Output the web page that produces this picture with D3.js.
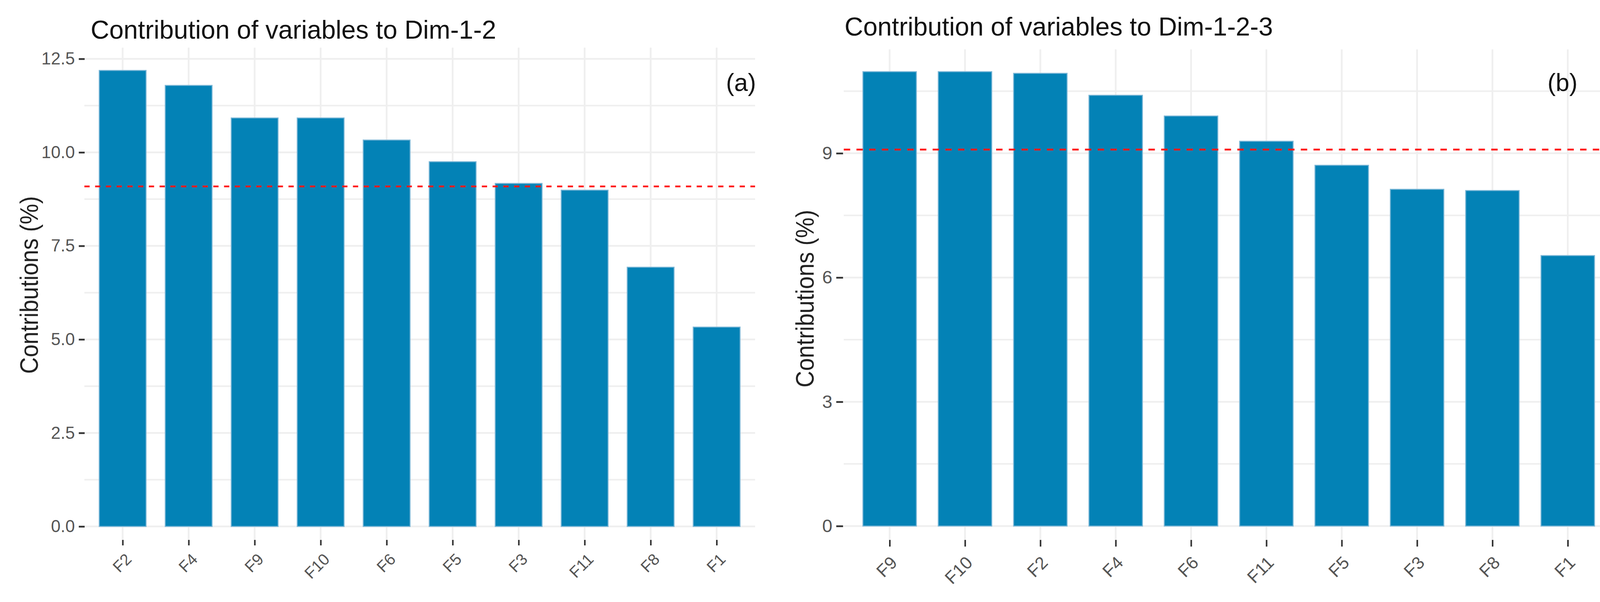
<!DOCTYPE html>
<html>
<head>
<meta charset="utf-8">
<script src="https://cdn.jsdelivr.net/npm/d3@7"></script>
<style>
  html, body { margin: 0; padding: 0; background: #fff; }
  text { font-family: "Liberation Sans", Arial, sans-serif; }
</style>
</head>
<body>
<script>
// data, panel (a): Dim-1-2
var catsA = ["F2", "F4", "F9", "F10", "F6", "F5", "F3", "F11", "F8", "F1"];
var valsA = [12.19, 11.79, 10.92, 10.92, 10.33, 9.75, 9.17, 8.99, 6.93, 5.33];
var ticksA = [0, 2.5, 5, 7.5, 10, 12.5];

// data, panel (b): Dim-1-2-3
var catsB = ["F9", "F10", "F2", "F4", "F6", "F11", "F5", "F3", "F8", "F1"];
var valsB = [10.97, 10.97, 10.93, 10.40, 9.90, 9.29, 8.71, 8.13, 8.10, 6.53];
var ticksB = [0, 3, 6, 9];

var refLine = 9.09;   // expected average contribution (red dashed)

var width = 4160;
var height = 1542;

var barColor = "#0382b6";
var gridColor = "#efefef";

var svg = d3.select("body")
    .append("svg")
    .attr("width", width)
    .attr("height", height);

svg.append("rect").attr("width", width).attr("height", height).attr("fill", "#fff");

function drawPanel(p) {
    var g = svg.append("g");

    var x = d3.scalePoint().domain(p.cats).range([p.cx0, p.cx1]);
    var y = d3.scaleLinear().domain(p.yDomain).range([p.bottom, p.top]);
    var barW = x.step() * 0.71;

    // minor grid = midpoints between major ticks (and one beyond the last)
    var minor = p.ticks.map(function (t, i) { return t + (p.ticks[1] - p.ticks[0]) / 2; })
        .filter(function (v) { return v < p.yDomain[1]; });

    g.selectAll(".hminor").data(minor).enter().append("line")
        .attr("x1", p.left).attr("x2", p.right)
        .attr("y1", function (d) { return y(d); }).attr("y2", function (d) { return y(d); })
        .attr("stroke", gridColor).attr("stroke-width", 4);

    g.selectAll(".hmajor").data(p.ticks).enter().append("line")
        .attr("x1", p.left).attr("x2", p.right)
        .attr("y1", function (d) { return y(d); }).attr("y2", function (d) { return y(d); })
        .attr("stroke", gridColor).attr("stroke-width", 4.5);

    g.selectAll(".vgrid").data(p.cats).enter().append("line")
        .attr("x1", function (d) { return x(d); }).attr("x2", function (d) { return x(d); })
        .attr("y1", p.top).attr("y2", p.bottom)
        .attr("stroke", gridColor).attr("stroke-width", 4.5);

    // bars
    g.selectAll(".bar").data(p.vals).enter().append("rect")
        .attr("x", function (d, i) { return x(p.cats[i]) - barW / 2; })
        .attr("y", function (d) { return y(d); })
        .attr("width", barW)
        .attr("height", function (d) { return y(0) - y(d); })
        .attr("fill", barColor)
        .attr("stroke", "#7ab6d6")
        .attr("stroke-width", 2.5);

    // reference line
    g.append("line")
        .attr("x1", p.left).attr("x2", p.right)
        .attr("y1", y(refLine)).attr("y2", y(refLine))
        .attr("stroke", "#ff1a1a")
        .attr("stroke-width", 4.7)
        .attr("stroke-dasharray", p.dash);

    // y axis
    var yAxis = g.append("g")
        .attr("transform", "translate(" + p.yAxisX + ",0)")
        .call(d3.axisLeft(y).tickValues(p.ticks).tickFormat(p.fmt)
            .tickSize(p.yTick).tickPadding(10));
    yAxis.select(".domain").remove();
    yAxis.selectAll("line").attr("stroke", "#333").attr("stroke-width", 4.5);
    yAxis.selectAll("text")
        .attr("fill", "#555")
        .style("font-size", p.yFont + "px")
        .style("font-family", "'Liberation Sans', Arial, sans-serif");

    // x axis
    var xAxis = g.append("g")
        .attr("transform", "translate(0," + p.bottom + ")")
        .call(d3.axisBottom(x).tickSize(p.xTick).tickPadding(0));
    xAxis.select(".domain").remove();
    xAxis.selectAll("line").attr("stroke", "#333").attr("stroke-width", 4);
    xAxis.selectAll("text")
        .attr("x", 0).attr("y", 0).attr("dy", 0)
        .attr("text-anchor", "end")
        .attr("transform", "translate(" + p.lblDx + "," + p.lblDy + ") rotate(-45)")
        .attr("fill", "#555")
        .style("font-size", p.xFont + "px")
        .style("font-family", "'Liberation Sans', Arial, sans-serif");

    // titles
    svg.append("text")
        .attr("x", p.titleX).attr("y", p.titleY)
        .attr("font-size", 66)
        .attr("fill", "#111")
        .text(p.title);

    svg.append("text")
        .attr("transform", "translate(" + p.ylabX + "," + p.ylabY + ") rotate(-90)")
        .attr("text-anchor", "middle")
        .attr("font-size", 64)
        .attr("textLength", 455)
        .attr("lengthAdjust", "spacingAndGlyphs")
        .attr("fill", "#222")
        .text("Contributions (%)");

    svg.append("text")
        .attr("x", p.tagX).attr("y", 233)
        .attr("text-anchor", "middle")
        .attr("font-size", 63)
        .attr("fill", "#111")
        .text(p.tag);
}

drawPanel({
    cats: catsA, vals: valsA, ticks: ticksA,
    fmt: d3.format(".1f"),
    left: 216, right: 1933, top: 122, bottom: 1383,
    cx0: 314, cx1: 1834.6,
    yDomain: [-0.36, 12.8],
    yAxisX: 216.7, yTick: 15, yFont: 44,
    xTick: 14, xFont: 41, lblDx: 25, lblDy: 52,
    dash: "13.5,14",
    title: "Contribution of variables to Dim-1-2", titleX: 232, titleY: 99,
    ylabX: 97, ylabY: 730,
    tag: "(a)", tagX: 1897
});

drawPanel({
    cats: catsB, vals: valsB, ticks: ticksB,
    fmt: d3.format("d"),
    left: 2160, right: 4113, top: 126.5, bottom: 1383,
    cx0: 2277.5, cx1: 4013.5,
    yDomain: [-0.335, 11.508],
    yAxisX: 2158.3, yTick: 17.5, yFont: 47,
    xTick: 17, xFont: 45, lblDx: 21.5, lblDy: 61,
    dash: "16.5,16",
    title: "Contribution of variables to Dim-1-2-3", titleX: 2162, titleY: 91,
    ylabX: 2083, ylabY: 765,
    tag: "(b)", tagX: 4000
});
</script>
</body>
</html>
